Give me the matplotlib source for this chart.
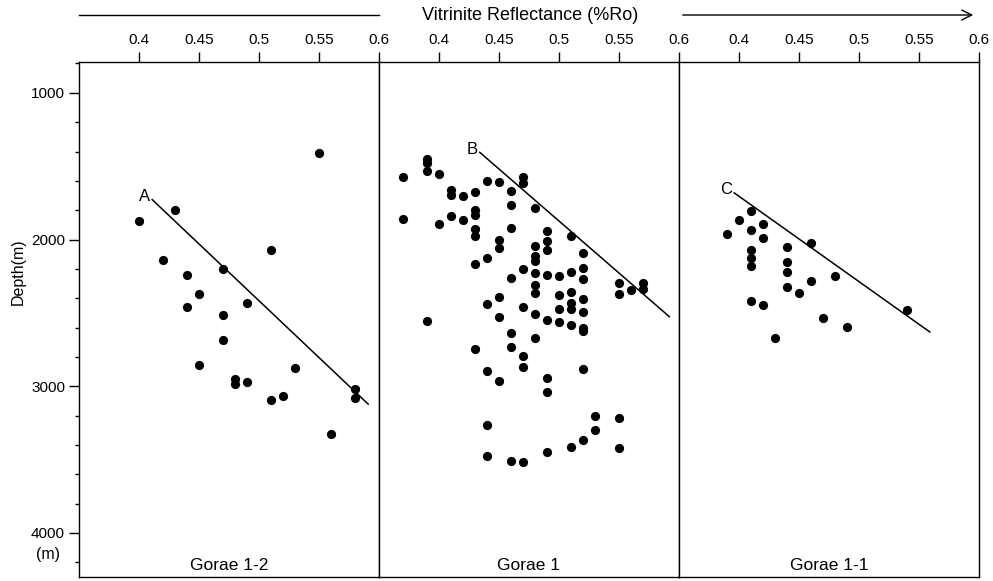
import matplotlib
matplotlib.use("Agg")
import matplotlib.pyplot as plt
from matplotlib.ticker import MultipleLocator

plt.rcParams['font.family'] = ['Liberation Sans', 'DejaVu Sans']
plt.rcParams['font.size'] = 11

# Gorae 1-2
ro_g12 = [0.40, 0.43, 0.55, 0.51, 0.42, 0.47, 0.44, 0.45, 0.44, 0.49, 0.47,
          0.47, 0.45, 0.53, 0.48, 0.48, 0.49, 0.51, 0.52, 0.58, 0.58, 0.56]
depth_g12 = [1871, 1800, 1410, 2073, 2141, 2204, 2243, 2372, 2463, 2433, 2512,
             2682, 2852, 2873, 2952, 2986, 2971, 3091, 3066, 3020, 3077, 3324]

# Gorae 1
ro_g1 = ([0.37] * 2 + [0.39] * 4 + [0.40] * 2 + [0.41] * 3 + [0.42] * 2 +
         [0.43] * 7 + [0.44] * 6 + [0.45] * 6 + [0.46] * 7 + [0.47] * 7 +
         [0.48] * 9 + [0.49] * 8 + [0.50] * 4 + [0.51] * 7 + [0.52] * 9 +
         [0.53] * 2 + [0.55] * 4 + [0.56] * 1 + [0.57] * 2)
depth_g1 = [1574, 1859,
            1451, 1478, 1535, 2556,
            1551, 1891,
            1660, 1694, 1841,
            1705, 1868,
            1678, 1796, 1830, 1927, 1973, 2170, 2744,
            1603, 2129, 2442, 2896, 3265, 3474,
            1610, 2000, 2057, 2392, 2530, 2964,
            1671, 1764, 1920, 2265, 2635, 2735, 3508,
            1576, 1614, 2204, 2460, 2794, 2866, 3515,
            1782, 2041, 2113, 2147, 2231, 2311, 2363, 2510, 2673,
            1943, 2011, 2068, 2243, 2545, 2946, 3036, 3447,
            2249, 2378, 2476, 2565,
            1977, 2222, 2356, 2431, 2476, 2580, 3415,
            2095, 2193, 2272, 2404, 2494, 2600, 2624, 2884, 3365,
            3204, 3295,
            2295, 2370, 3213, 3424,
            2345,
            2299, 2336]

# Gorae 1-1
ro_g11 = [0.39, 0.40, 0.41, 0.41, 0.41, 0.41, 0.41, 0.41, 0.42, 0.42, 0.42,
          0.43, 0.44, 0.44, 0.44, 0.44, 0.45, 0.46, 0.46, 0.47, 0.48, 0.49, 0.54]
depth_g11 = [1959, 1868, 1803, 1932, 2068, 2125, 2182, 2420, 1893, 1989, 2449,
             2671, 2054, 2154, 2222, 2322, 2367, 2027, 2286, 2533, 2249, 2595, 2483]

# trend lines (start, end) and labels
trend_ro = [[0.411, 0.591], [0.434, 0.592], [0.396, 0.559]]
trend_depth = [[1728, 3122], [1406, 2526], [1682, 2630]]
trend_names = ['A', 'B', 'C']

wells = ['Gorae 1-2', 'Gorae 1', 'Gorae 1-1']
ro_ticks = [0.4, 0.45, 0.5, 0.55, 0.6]
ro_labels = ['0.4', '0.45', '0.5', '0.55', '0.6']
depth_ticks = [1000, 2000, 3000, 4000]

xs = [ro_g12, ro_g1, ro_g11]
ys = [depth_g12, depth_g1, depth_g11]

W, H = 993, 581
fig = plt.figure(figsize=(W / 100, H / 100), dpi=100)

left, width = 79 / W, 300 / W
bottom, top = 1 - 577 / H, 1 - 62 / H

for i in range(3):
    ax = fig.add_axes([left + i * width, bottom, width, top - bottom])
    ax.scatter(xs[i], ys[i], s=44, color='black', zorder=3, linewidths=0)
    ax.plot(trend_ro[i], trend_depth[i], color='black', lw=1.1)
    ax.text(trend_ro[i][0] - 0.002, trend_depth[i][0] - 20, trend_names[i],
            ha='right', va='center', fontsize=12)
    ax.text(0.5, 0.008, wells[i], transform=ax.transAxes, ha='center',
            va='bottom', fontsize=12.5)
    ax.set_xlim(0.35, 0.6)
    ax.set_ylim(4300, 790)
    ax.xaxis.tick_top()
    ax.set_xticks(ro_ticks)
    ax.set_xticklabels(ro_labels)
    ax.tick_params(axis='x', direction='out', length=7, width=1, pad=4)
    for sp in ax.spines.values():
        sp.set_linewidth(1.0)
    if i == 0:
        ax.set_yticks(depth_ticks)
        ax.yaxis.set_minor_locator(MultipleLocator(200))
        ax.tick_params(axis='y', which='major', direction='out', length=7, width=1, pad=3)
        ax.tick_params(axis='y', which='minor', direction='out', length=3, width=1)
    else:
        ax.set_yticks([])

fig.text(48 / W, 1 - 555 / H, '(m)', ha='center', va='center', fontsize=11.5)
fig.text(18 / W, 1 - 272 / H, 'Depth(m)', ha='center', va='center',
         rotation=90, fontsize=11.5)

fig.text(530 / W, 1 - 15 / H, 'Vitrinite Reflectance (%Ro)', ha='center',
         va='center', fontsize=13)
fig.add_artist(plt.Line2D([79 / W, 379 / W], [1 - 15 / H, 1 - 15 / H],
                          color='black', lw=1))
fig.add_artist(matplotlib.patches.FancyArrowPatch(
    (680 / W, 1 - 15 / H), (976 / W, 1 - 15 / H), transform=fig.transFigure,
    arrowstyle='->', mutation_scale=18, color='black', lw=1))

fig.savefig('out.png', dpi=100)
